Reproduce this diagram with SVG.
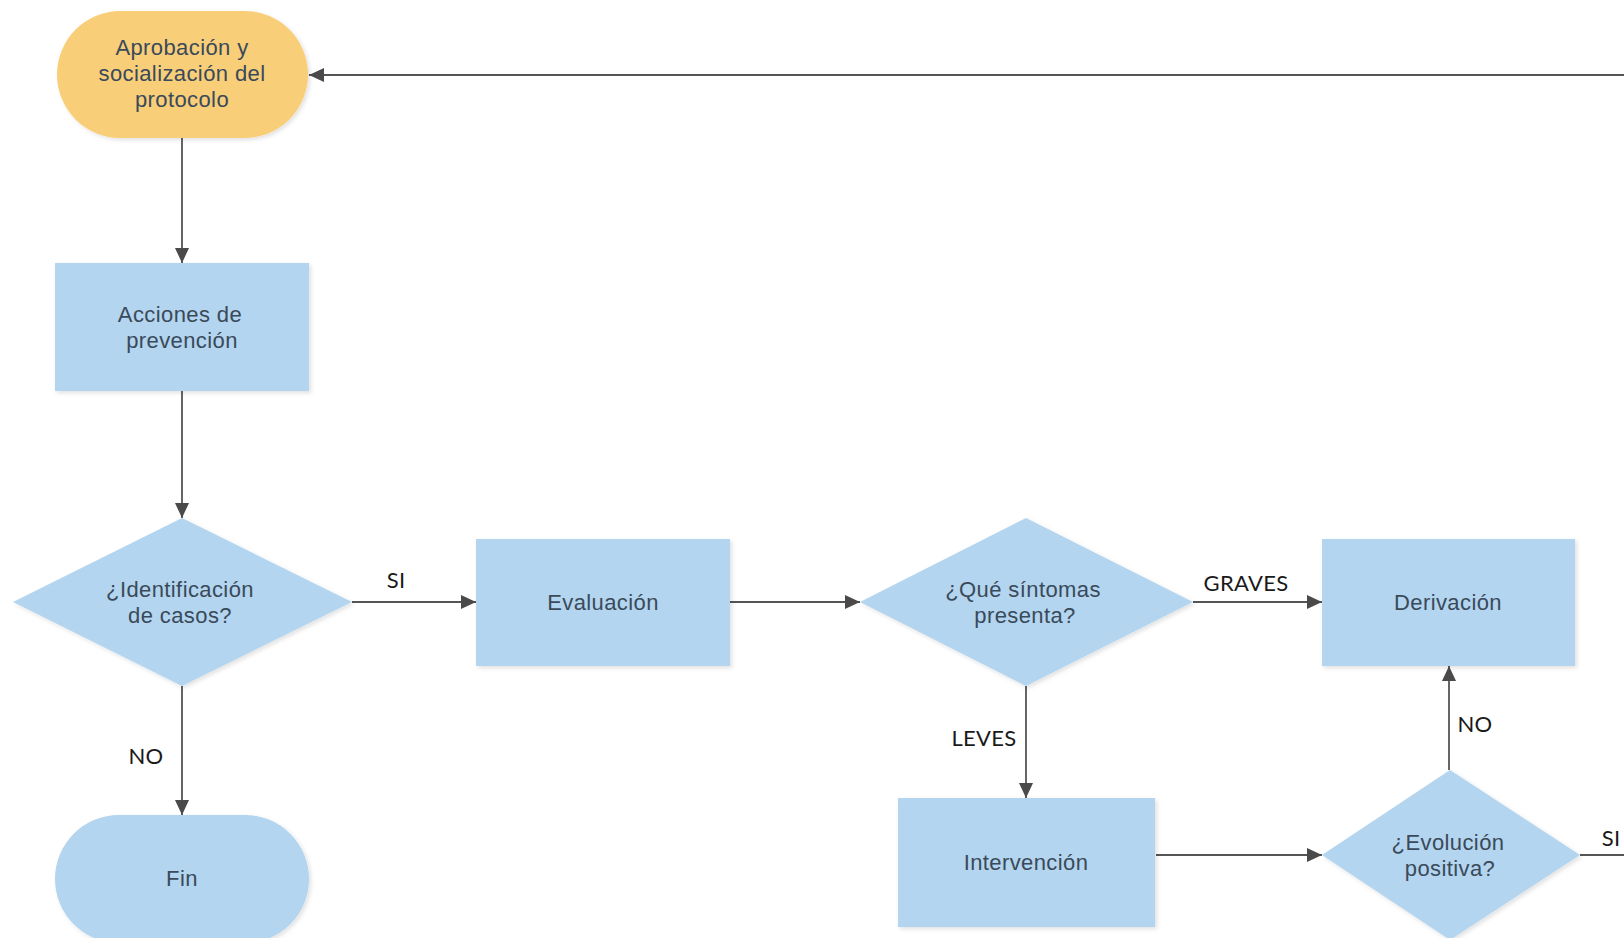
<svg xmlns="http://www.w3.org/2000/svg" width="1624" height="938" viewBox="0 0 1624 938">
<defs>
<marker id="arr" markerUnits="userSpaceOnUse" markerWidth="16" markerHeight="14" refX="15" refY="7" orient="auto">
<path d="M0,0 L15,7 L0,14 z" fill="#4a4a4a"/>
</marker>
<filter id="sh" x="-5%" y="-5%" width="112%" height="115%">
<feDropShadow dx="2" dy="2" stdDeviation="2" flood-color="#000" flood-opacity="0.12"/>
</filter>
</defs>
<style>
.blue{fill:#b3d5ef;filter:url(#sh)}
.orange{fill:#f9ce78;filter:url(#sh)}
.t{font-family:"Liberation Sans",Arial,sans-serif;font-size:22px;fill:#3a4a5a;text-anchor:middle;letter-spacing:0.4px}
.lbl{font-family:Lato,"Liberation Sans",sans-serif;font-size:22px;fill:#1a1a1a;text-anchor:middle;letter-spacing:0.3px}
.c{stroke:#555;stroke-width:1.8;fill:none;marker-end:url(#arr)}
.cn{stroke:#555;stroke-width:1.8;fill:none}
</style>
<rect width="1624" height="938" fill="#ffffff"/>
<g id="connectors">
<line class="c" x1="1624" y1="75" x2="309" y2="75"/>
<line class="c" x1="182" y1="137" x2="182" y2="263"/>
<line class="c" x1="182" y1="391" x2="182" y2="518"/>
<line class="c" x1="182" y1="686" x2="182" y2="815"/>
<line class="c" x1="352" y1="602" x2="476" y2="602"/>
<line class="c" x1="730" y1="602" x2="860" y2="602"/>
<line class="c" x1="1193" y1="602" x2="1322" y2="602"/>
<line class="c" x1="1026" y1="686" x2="1026" y2="798"/>
<line class="c" x1="1156" y1="855" x2="1322" y2="855"/>
<line class="c" x1="1449" y1="770" x2="1449" y2="666"/>
<line class="cn" x1="1580" y1="855" x2="1624" y2="855"/>
<text class="lbl" x="396" y="588">SI</text>
<text class="lbl" x="146" y="764">NO</text>
<text class="lbl" x="984" y="746">LEVES</text>
<text class="lbl" x="1246" y="591">GRAVES</text>
<text class="lbl" x="1475" y="732">NO</text>
<text class="lbl" x="1611" y="846">SI</text>
</g>
<g id="aprobacion">
<rect class="orange" x="57" y="11" width="251" height="127" rx="63.5" ry="63.5"/>
<text class="t" x="182" y="55">Aprobación y</text>
<text class="t" x="182" y="81">socialización del</text>
<text class="t" x="182" y="107">protocolo</text>
</g>
<g id="acciones">
<rect class="blue" x="55" y="263" width="254" height="128"/>
<text class="t" x="180" y="322">Acciones de</text>
<text class="t" x="182" y="348">prevención</text>
</g>
<g id="identificacion">
<polygon class="blue" points="182,518 352,602 182,686 13,602"/>
<text class="t" x="180" y="597">¿Identificación</text>
<text class="t" x="180" y="623">de casos?</text>
</g>
<g id="fin">
<rect class="blue" x="55" y="815" width="254" height="128" rx="64" ry="64"/>
<text class="t" x="182" y="886">Fin</text>
</g>
<g id="evaluacion">
<rect class="blue" x="476" y="539" width="254" height="127"/>
<text class="t" x="603" y="610">Evaluación</text>
</g>
<g id="sintomas">
<polygon class="blue" points="1026,518 1193,602 1026,686 860,602"/>
<text class="t" x="1023" y="597">¿Qué síntomas</text>
<text class="t" x="1025" y="623">presenta?</text>
</g>
<g id="derivacion">
<rect class="blue" x="1322" y="539" width="253" height="127"/>
<text class="t" x="1448" y="610">Derivación</text>
</g>
<g id="intervencion">
<rect class="blue" x="898" y="798" width="257" height="129"/>
<text class="t" x="1026" y="870">Intervención</text>
</g>
<g id="evolucion">
<polygon class="blue" points="1450,770 1580,855 1450,940 1322,855"/>
<text class="t" x="1448" y="850">¿Evolución</text>
<text class="t" x="1450" y="876">positiva?</text>
</g>
</svg>
